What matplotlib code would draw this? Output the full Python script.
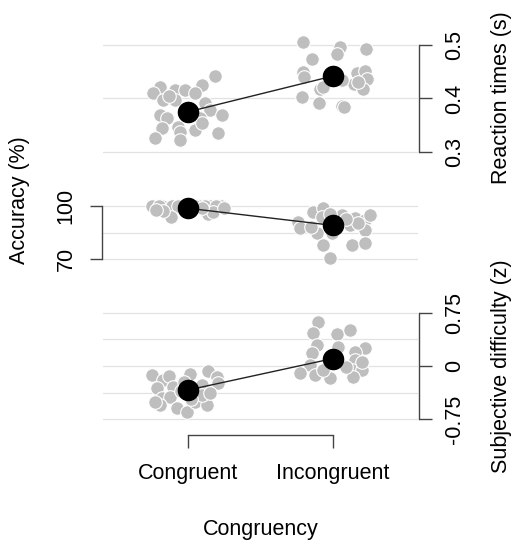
import matplotlib
matplotlib.use("Agg")
import matplotlib.pyplot as plt

plt.rcParams.update({
    "font.family": ["Liberation Sans", "DejaVu Sans"],
    "font.size": 15.5,
})

conditions = ["Congruent", "Incongruent"]

# reaction times (s), per participant, with horizontal jitter
rt_cong = [0.442, 0.425, 0.422, 0.410, 0.416, 0.415, 0.410, 0.397, 0.397, 0.391, 0.379, 0.369,
           0.369, 0.363, 0.363, 0.344, 0.347, 0.338, 0.341, 0.335, 0.326, 0.322, 0.405, 0.355]
rt_cong_jit = [0.186, 0.094, -0.193, -0.239, -0.090, -0.021, 0.048, -0.170, -0.090, 0.117, 0.152, 0.232,
               -0.193, -0.147, 0.083, -0.181, -0.067, -0.055, 0.048, 0.209, -0.228, -0.055, -0.130, 0.100]
rt_incong = [0.506, 0.496, 0.484, 0.493, 0.473, 0.450, 0.441, 0.447, 0.452, 0.436, 0.428, 0.417,
             0.417, 0.422, 0.435, 0.403, 0.392, 0.386, 0.384, 0.430]
rt_incong_jit = [-0.209, 0.048, 0.030, 0.228, -0.147, -0.209, -0.200, 0.163, 0.221, 0.232, 0.145, 0.209,
                 -0.090, -0.067, 0.060, -0.216, -0.094, 0.060, 0.075, 0.170]
rt_means = [0.375, 0.442]

# accuracy (%)
acc_cong = [100, 100, 100, 100, 100, 100, 100, 100, 100, 100, 100,
            94.0, 95.5, 96.5, 97.0, 98.0, 99.0, 97.5, 99.0]
acc_cong_jit = [-0.25, -0.18, -0.11, 0.08, 0.15, 0.23, -0.07, 0.05, 0.12, -0.20, 0.19,
                -0.12, 0.14, 0.17, -0.17, -0.02, 0.25, -0.22, 0.10]
acc_incong = [96.8, 98.7, 93.9, 94.9, 93.0, 92.1, 94.9, 91.1, 87.4, 84.5, 84.5, 89.2,
              86.4, 77.9, 77.9, 78.9, 70.4, 90.2, 95.5, 92.5, 88.0]
acc_incong_jit = [-0.136, -0.067, -0.078, 0.060, 0.152, 0.221, 0.255, -0.239, -0.228, -0.112, -0.009, 0.117,
                  0.221, -0.067, 0.129, 0.221, -0.021, 0.174, -0.020, 0.090, -0.150]
acc_means = [98.7, 89.0]

# subjective difficulty (z)
diff_cong = [-0.127, -0.197, -0.136, -0.117, -0.070, -0.150, -0.243, -0.314, -0.291, -0.267, -0.454,
             -0.432, -0.549, -0.595, -0.643, -0.502, -0.549, -0.502, -0.408, -0.350, -0.380, -0.220, -0.470]
diff_cong_jit = [-0.250, -0.170, -0.129, 0.014, 0.140, 0.198, 0.209, -0.216, -0.101, 0.094, -0.181,
                 -0.124, -0.193, -0.078, -0.009, 0.048, 0.129, -0.228, 0.094, -0.050, 0.150, -0.030, 0.020]
diff_incong = [0.623, 0.460, 0.450, 0.506, 0.295, 0.271, 0.249, 0.201, 0.179, 0.014, 0.084,
               -0.103, -0.127, -0.173, -0.056, -0.056, -0.150, -0.056, 0.100, 0.050, -0.020]
diff_incong_jit = [-0.101, -0.136, 0.026, 0.117, -0.112, 0.037, 0.221, 0.152, -0.147, -0.159, 0.152,
                   -0.228, -0.124, -0.021, 0.129, 0.198, 0.140, -0.067, -0.030, 0.200, 0.090]
diff_means = [-0.338, 0.105]

rt_grid = [0.3, 0.4, 0.5]
rt_ticks = [0.3, 0.4, 0.5]
rt_labels = ["0.3", "0.4", "0.5"]
acc_grid = [70, 85, 100]
acc_ticks = [70, 100]
acc_labels = ["70", "100"]
diff_grid = [-0.75, -0.375, 0, 0.375, 0.75]
diff_ticks = [-0.75, 0, 0.75]
diff_labels = ["-0.75", "0", "0.75"]

W, H = 514, 545
fig = plt.figure(figsize=(W / 100, H / 100), dpi=100)


def px_axes(left, top, right, bottom):
    return fig.add_axes([left / W, 1 - bottom / H, (right - left) / W, (bottom - top) / H])


GRAY = "#bebebe"
SPINE = "#444444"


def panel(ax, cong, cong_jit, incong, incong_jit, means, grid, ylim):
    for g in grid:
        ax.axhline(g, color="#e2e2e2", lw=0.9, zorder=1)
    xs = [1 + j for j in cong_jit] + [2 + j for j in incong_jit]
    ax.plot(xs, cong + incong, "o", ms=9.8, mfc=GRAY, mec="white", mew=0.8, zorder=2)
    ax.plot([1, 2], means, "-", color="#222222", lw=1.0, zorder=3)
    ax.plot([1, 2], means, "o", ms=14.5, color="black", zorder=4)
    ax.set_xlim(0.414, 2.586)
    ax.set_ylim(*ylim)
    for s in ax.spines.values():
        s.set_visible(False)
        s.set_color(SPINE)
        s.set_linewidth(1.0)
    ax.set_xticks([])
    ax.tick_params(color=SPINE, width=1.0, length=9.5)
    ax.patch.set_alpha(0)


# reaction times
ax1 = px_axes(103, 30, 418, 165)
panel(ax1, rt_cong, rt_cong_jit, rt_incong, rt_incong_jit, rt_means, rt_grid, (0.2757, 0.528))
ax1.yaxis.tick_right()
ax1.spines["right"].set_visible(True)
ax1.spines["right"].set_bounds(0.3, 0.5)
ax1.spines["right"].set_position(("outward", 1))
ax1.set_yticks(rt_ticks)
ax1.set_yticklabels(rt_labels, rotation=90, va="center")
ax1.tick_params(axis="y", pad=8)

# accuracy
ax2 = px_axes(103, 195, 418, 270)
panel(ax2, acc_cong, acc_cong_jit, acc_incong, acc_incong_jit, acc_means, acc_grid, (63.8, 106.2))
ax2.spines["left"].set_visible(True)
ax2.spines["left"].set_bounds(70, 100)
ax2.spines["left"].set_position(("outward", 1))
ax2.set_yticks(acc_ticks)
ax2.set_yticklabels(acc_labels, rotation=90, va="center")
ax2.tick_params(axis="y", length=8.6, pad=9.5)

# subjective difficulty
ax3 = px_axes(103, 300, 418, 430)
panel(ax3, diff_cong, diff_cong_jit, diff_incong, diff_incong_jit, diff_means, diff_grid, (-0.90, 0.928))
ax3.yaxis.tick_right()
ax3.spines["right"].set_visible(True)
ax3.spines["right"].set_bounds(-0.75, 0.75)
ax3.spines["right"].set_position(("outward", 1))
ax3.set_yticks(diff_ticks)
ax3.set_yticklabels(diff_labels, rotation=90, va="center")
ax3.tick_params(axis="y", pad=8)
ax3.spines["bottom"].set_visible(True)
ax3.spines["bottom"].set_bounds(1, 2)
ax3.spines["bottom"].set_position(("outward", 3.6))
ax3.set_xticks([1, 2])
ax3.set_xticklabels(conditions)
ax3.tick_params(axis="x", length=9.4, pad=11)

# axis titles
fig.text(261 / W, 1 - 535 / H, "Congruency", ha="center", va="baseline")
fig.text(501 / W, 1 - 98 / H, "Reaction times (s)", rotation=90, ha="center", va="center")
fig.text(501 / W, 1 - 366 / H, "Subjective difficulty (z)", rotation=90, ha="center", va="center")
fig.text(20 / W, 1 - 200 / H, "Accuracy (%)", rotation=90, ha="center", va="center")

fig.savefig("out.png", dpi=100)
